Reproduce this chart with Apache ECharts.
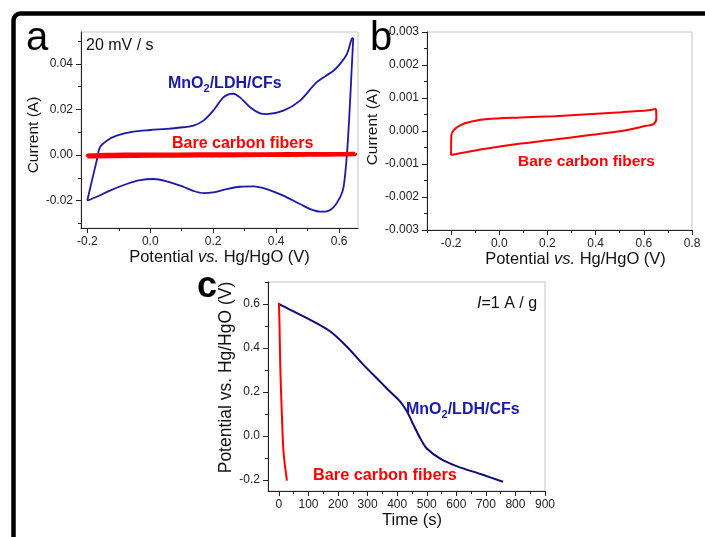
<!DOCTYPE html>
<html>
<head>
<meta charset="utf-8">
<script src="https://cdn.jsdelivr.net/npm/echarts@6/dist/echarts.min.js"></script>
<style>html,body{margin:0;padding:0;background:#fff;}#c{width:705px;height:537px;}</style>
</head>
<body>
<div id="c"></div>
<script>
// ---------- DATA ----------
// Panel a: CV of MnO2/LDH/CFs at 20 mV/s (potential V, current A)
const mnForward = [[-0.2,-0.020],[-0.185,-0.011],[-0.17,-0.0024],[-0.16,0.0034],[-0.138,0.0063],[-0.107,0.0085],[-0.054,0.0103],[0.0,0.011],[0.052,0.0115],[0.105,0.0122],[0.137,0.0129],[0.169,0.0151],[0.2,0.0195],[0.232,0.0253],[0.254,0.0268],[0.264,0.0269],[0.285,0.0253],[0.317,0.021],[0.349,0.0183],[0.37,0.018],[0.423,0.0195],[0.476,0.0239],[0.529,0.032],[0.582,0.037],[0.603,0.040],[0.625,0.0444],[0.640,0.051],[0.645,0.0514]];
const mnReverse = [[0.645,0.0514],[0.640,0.038],[0.635,0.0239],[0.625,0.0005],[0.614,-0.0142],[0.603,-0.0186],[0.582,-0.023],[0.561,-0.0247],[0.54,-0.0248],[0.508,-0.0237],[0.476,-0.0215],[0.423,-0.0178],[0.370,-0.0149],[0.328,-0.0137],[0.285,-0.0139],[0.243,-0.0149],[0.2,-0.0164],[0.169,-0.0167],[0.137,-0.0157],[0.105,-0.0139],[0.052,-0.0115],[0.01,-0.0105],[-0.032,-0.011],[-0.075,-0.0127],[-0.128,-0.0156],[-0.17,-0.0183],[-0.2,-0.020]];
// Panels a & b: CV of bare carbon fibers
const bareForward = [[-0.2,-0.00073],[-0.199,-0.00013],[-0.189,0.000025],[-0.161,0.00018],[-0.119,0.00028],[-0.05,0.00036],[0.09,0.00041],[0.229,0.00045],[0.368,0.00051],[0.508,0.00057],[0.619,0.00063],[0.651,0.00067]];
const bareReverse = [[0.651,0.00067],[0.652,0.00038],[0.64,0.00021],[0.605,0.00015],[0.508,0.0],[0.368,-0.00013],[0.229,-0.00026],[0.09,-0.00038],[-0.05,-0.00053],[-0.189,-0.00071],[-0.2,-0.00073]];
// Panel c: galvanostatic discharge at 1 A/g (time s, potential V)
const mnDischarge = [[1,0.6],[4,0.597],[117,0.52],[174,0.475],[230,0.406],[287,0.322],[343,0.246],[377,0.2],[411,0.155],[434,0.109],[456,0.048],[479,-0.013],[501,-0.058],[547,-0.104],[603,-0.138],[682,-0.173],[758,-0.208]];
const bareDischarge = [[0,0.605],[2,0.5],[4.4,0.322],[10,0.094],[15.6,-0.074],[27,-0.203]];

// Tick values
const aXMajor = [-0.2,0,0.2,0.4,0.6];
const aXMinor = [-0.1,0.1,0.3,0.5];
const aYMajor = [-0.02,0,0.02,0.04];
const aYMinor = [-0.03,-0.01,0.01,0.03,0.05];
const bXMajor = [-0.2,0,0.2,0.4,0.6,0.8];
const bXMinor = [-0.3,-0.1,0.1,0.3,0.5,0.7];
const bYMajor = [-0.003,-0.002,-0.001,0,0.001,0.002,0.003];
const bYMinor = [-0.0025,-0.0015,-0.0005,0.0005,0.0015,0.0025];
const cXMajor = [0,100,200,300,400,500,600,700,800,900];
const cXMinor = [50,150,250,350,450,550,650,750,850];
const cYMajor = [-0.2,0,0.2,0.4,0.6];
const cYMinor = [-0.1,0.1,0.3,0.5,0.7];

// ---------- STYLE ----------
const FONT = '"Liberation Sans", Arial, sans-serif';
const BLUE = '#1a1aa6';
const NAVY = '#0c0c78';
const RED = '#ff0000';
const AX = '#222';

const potName = '{n|Potential }{i|vs.}{n| Hg/HgO (V)}';
function nameStyle(size, pad) {
  return {
    fontFamily: FONT, fontSize: size, color: '#111', padding: pad || 0,
    rich: {
      n: {fontFamily: FONT, fontSize: size, color: '#111'},
      i: {fontFamily: FONT, fontSize: size, color: '#111', fontStyle: 'italic'}
    }
  };
}

function mainAxis(dim, grid, min, max, major, decimals, name, nameGap, nstyle) {
  return {
    type: 'value', gridIndex: grid, min: min, max: max,
    position: dim === 'x' ? 'bottom' : 'left',
    axisLine: {show: true, onZero: false, lineStyle: {color: AX, width: 1}},
    axisTick: {show: true, inside: false, length: 5, customValues: major, lineStyle: {color: AX}},
    axisLabel: {show: true, customValues: major, margin: dim === 'x' ? 8 : 8,
      fontFamily: FONT, fontSize: 12, color: '#222',
      formatter: v => (Math.abs(v) < 1e-12 ? 0 : v).toFixed(decimals)},
    splitLine: {show: false},
    name: name, nameLocation: 'middle', nameGap: nameGap, nameTextStyle: nstyle,
    z: 5
  };
}
function minorAxis(dim, grid, min, max, minor) {
  return {
    type: 'value', gridIndex: grid, min: min, max: max,
    position: dim === 'x' ? 'bottom' : 'left',
    axisLine: {show: false, onZero: false},
    axisTick: {show: true, inside: false, length: 3, customValues: minor, lineStyle: {color: AX}},
    axisLabel: {show: false},
    splitLine: {show: false}
  };
}

const xAxes = [
  mainAxis('x', 0, -0.22, 0.66, aXMajor, 1, potName, 20, nameStyle(16.5)),
  minorAxis('x', 0, -0.22, 0.66, aXMinor),
  mainAxis('x', 1, -0.3, 0.8, bXMajor, 1, potName, 20, nameStyle(16.5, [0,0,0,32])),
  minorAxis('x', 1, -0.3, 0.8, bXMinor),
  mainAxis('x', 2, -37, 900, cXMajor, 0, 'Time (s)', 20, nameStyle(16.5, [0,0,0,11])),
  minorAxis('x', 2, -37, 900, cXMinor)
];
const yAxes = [
  mainAxis('y', 0, -0.032, 0.054, aYMajor, 2, 'Current (A)', 36, nameStyle(15.5, [0,10,0,0])),
  minorAxis('y', 0, -0.032, 0.054, aYMinor),
  mainAxis('y', 1, -0.003, 0.003, bYMajor, 3, 'Current (A)', 39, nameStyle(15.5, [0,0,0,8])),
  minorAxis('y', 1, -0.003, 0.003, bYMinor),
  {...mainAxis('y', 2, -0.25, 0.7, cYMajor, 1, 'Potential vs. Hg/HgO (V)', 27, nameStyle(17.5, [0,0,0,18]))},
  minorAxis('y', 2, -0.25, 0.7, cYMinor)
];

function line(data, xi, yi, color, width) {
  return {type: 'line', data: data, xAxisIndex: xi, yAxisIndex: yi, showSymbol: false,
    smooth: 0.3, lineStyle: {color: color, width: width}, itemStyle: {color: color},
    silent: true, animation: false, clip: false};
}

function txt(x, y, text, size, color, opts) {
  return Object.assign({type: 'text', x: x, y: y, z: 100, silent: true,
    style: Object.assign({text: text, fontFamily: FONT, fontSize: size, fill: color,
      textAlign: 'left', textVerticalAlign: 'middle'}, (opts || {}))});
}
function mnLabel(x, y, color) {
  return {type: 'text', x: x, y: y, z: 100, silent: true,
    style: {text: '{n|MnO}{s|2}{n|/LDH/CFs}', fontFamily: FONT, textAlign: 'left', textVerticalAlign: 'middle',
      rich: {
        n: {fontFamily: FONT, fontSize: 16, fontWeight: 'bold', fill: color, lineHeight: 20},
        s: {fontFamily: FONT, fontSize: 11, fontWeight: 'bold', fill: color, lineHeight: 20, verticalAlign: 'bottom'}
      }}};
}

const chart = echarts.init(document.getElementById('c'), null, {renderer: 'canvas'});
chart.setOption({
  backgroundColor: '#fff',
  animation: false,
  grid: [
    {left: 81, top: 32, width: 277, height: 196, show: true, borderColor: '#c4c4c4', borderWidth: 1, backgroundColor: '#fff'},
    {left: 427, top: 32, width: 265, height: 198, show: true, borderColor: '#c4c4c4', borderWidth: 1, backgroundColor: '#fff'},
    {left: 268, top: 282, width: 277, height: 209, show: true, borderColor: '#c4c4c4', borderWidth: 1, backgroundColor: '#fff'}
  ],
  xAxis: xAxes,
  yAxis: yAxes,
  series: [
    line(mnForward, 0, 0, BLUE, 1.8),
    line(mnReverse, 0, 0, BLUE, 1.8),
    line(bareForward, 0, 0, RED, 3.5),
    line(bareReverse, 0, 0, RED, 3.5),
    line(bareForward, 2, 2, RED, 2),
    line(bareReverse, 2, 2, RED, 2),
    line(mnDischarge, 4, 4, NAVY, 2),
    line(bareDischarge, 4, 4, RED, 2)
  ],
  graphic: [
    {type: 'rect', z: 0, silent: true, shape: {x: 13.5, y: 13.5, width: 730, height: 570, r: 7},
      style: {fill: 'none', stroke: '#000', lineWidth: 4.5}},
    txt(26, 39, 'a', 40, '#000'),
    txt(370, 39, 'b', 40, '#000'),
    txt(197, 287, 'c', 36, '#000', {fontWeight: 'bold'}),
    txt(86, 45.5, '20 mV / s', 16, '#111'),
    mnLabel(168, 84, BLUE),
    txt(172, 144, 'Bare carbon fibers', 16, RED, {fontWeight: 'bold'}),
    txt(518, 162, 'Bare carbon fibers', 15.5, RED, {fontWeight: 'bold'}),
    {type: 'text', x: 477, y: 303.5, z: 100, silent: true,
      style: {text: '{i|I}{n|=1 A / g}', fontFamily: FONT, textAlign: 'left', textVerticalAlign: 'middle',
        rich: {i: {fontFamily: FONT, fontSize: 16, fontStyle: 'italic', fill: '#111'},
               n: {fontFamily: FONT, fontSize: 16, fill: '#111'}}}},
    mnLabel(406, 410, BLUE),
    txt(313, 475.5, 'Bare carbon fibers', 16.3, RED, {fontWeight: 'bold'})
  ]
});
</script>
</body>
</html>
